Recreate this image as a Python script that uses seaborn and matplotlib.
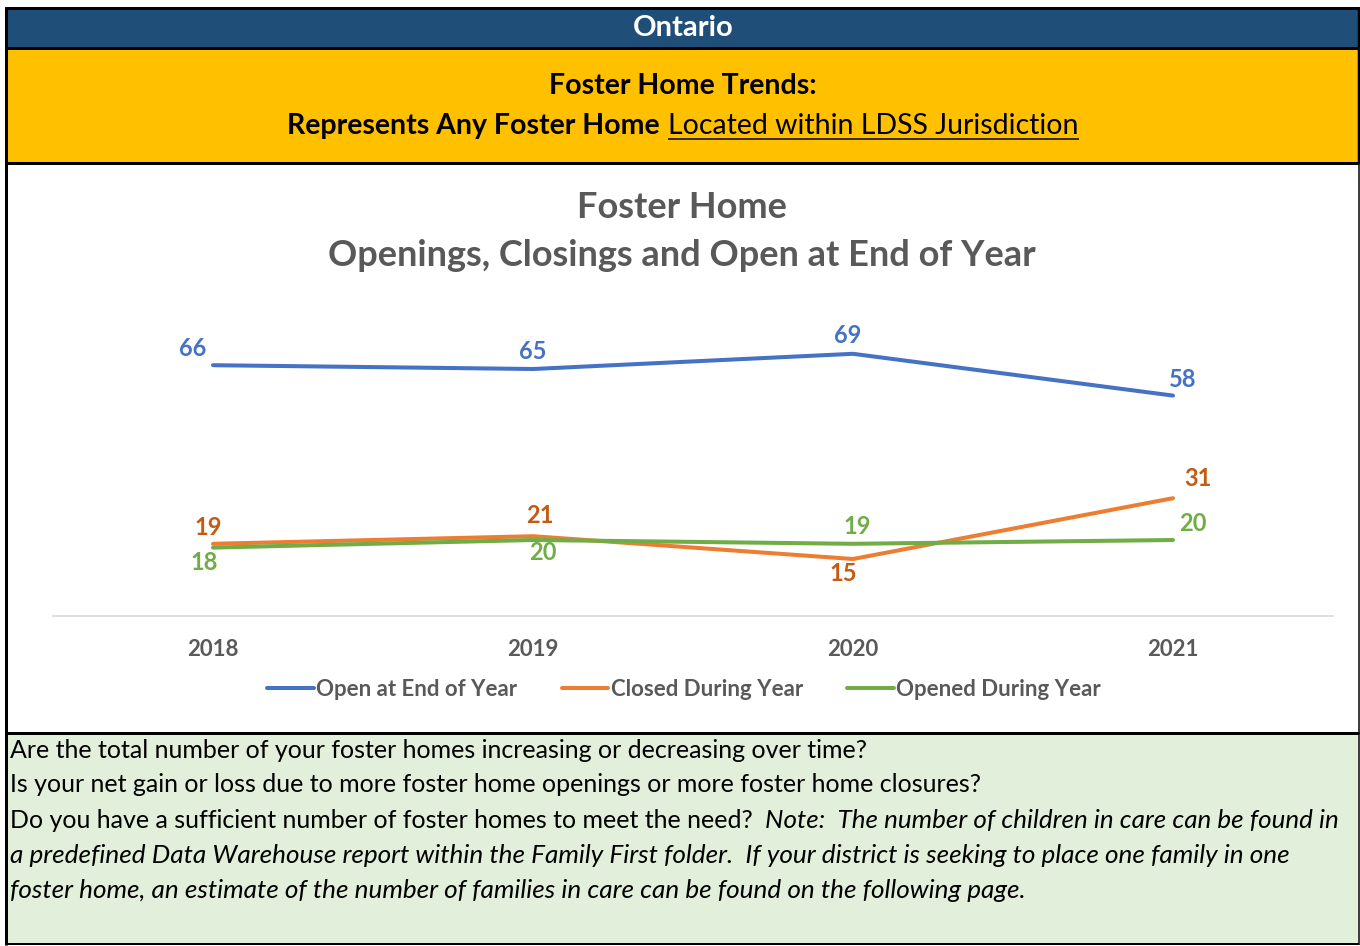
import matplotlib
matplotlib.use("Agg")
import matplotlib.pyplot as plt
import seaborn as sns
import pandas as pd
from matplotlib.patches import Rectangle
from matplotlib.lines import Line2D

# ---------------- data ----------------
years = ["2018", "2019", "2020", "2021"]
open_end_of_year = [66, 65, 69, 58]
closed_during_year = [19, 21, 15, 31]
opened_during_year = [18, 20, 19, 20]
series_names = ["Open at End of Year", "Closed During Year", "Opened During Year"]

header_title = "Ontario"
banner_line1 = "Foster Home Trends:"
banner_bold = "Represents Any Foster Home"
banner_underlined = "Located within LDSS Jurisdiction"
chart_title_lines = ["Foster Home", "Openings, Closings and Open at End of Year"]
notes_regular = [
    "Are the total number of your foster homes increasing or decreasing over time?",
    "Is your net gain or loss due to more foster home openings or more foster home closures?",
    "Do you have a sufficient number of foster homes to meet the need?",
]
notes_italic = [
    "Note:  The number of children in care can be found in",
    "a predefined Data Warehouse report within the Family First folder.  If your district is seeking to place one family in one",
    "foster home, an estimate of the number of families in care can be found on the following page.",
]

# ---------------- style ----------------
line_colors = ["#4472C4", "#ED7D31", "#70AD47"]
label_colors = ["#4472C4", "#C55A11", "#70AD47"]
grey = "#595959"
# data label offsets in pixels (dx, dy up)
label_offsets = [
    [(-20, 17), (0, 18), (-5, 18), (10, 16)],
    [(-5, 16), (7, 21), (-10, -14), (25, 20)],
    [(-9, -15), (10, -12), (4, 17), (20, 17)],
]

W, H = 1360, 946
sns.set_theme(style="white")
plt.rcParams['font.family'] = ['Lato', 'DejaVu Sans']

fig = plt.figure(figsize=(W / 100, H / 100), dpi=100)


def fx(x):
    return x / W


def fy(y):
    return 1 - y / H


def rect(x0, y0, x1, y1, color):
    fig.patches.append(Rectangle((fx(x0), fy(y1)), fx(x1) - fx(x0), fy(y0) - fy(y1),
                                 transform=fig.transFigure, facecolor=color,
                                 edgecolor='none', zorder=-10))


def line(x0, y0, x1, y1, lw_px, color='black'):
    fig.add_artist(Line2D([fx(x0), fx(x1)], [fy(y0), fy(y1)], transform=fig.transFigure,
                          color=color, lw=lw_px * 0.72, solid_capstyle='butt', zorder=5))


# background panels
rect(5, 7, 1358, 48, "#1F4E79")
rect(5, 48, 1358, 163, "#FFC000")
rect(5, 163, 1358, 733, "white")
rect(5, 733, 1358, 944, "#E2EFDA")

# borders
line(5, 8, 1359, 8, 3)
line(5, 48, 1359, 48, 3)
line(5, 163, 1359, 163, 3)
line(5, 733, 1359, 733, 3)
line(5, 944, 1359, 944, 2)
line(5.5, 7, 5.5, 945, 3)
line(1358.5, 7, 1358.5, 163, 2.5)
line(1359, 163, 1359, 945, 1.5)

# header texts
fig.text(fx(683), fy(28), header_title, color="white", fontsize=21, fontweight="bold",
         ha="center", va="center")
fig.text(fx(683), fy(86), banner_line1, color="black", fontsize=20.5, fontweight="bold",
         ha="center", va="center")

# chart title (two lines)
fig.text(fx(682), fy(207), chart_title_lines[0], color=grey, fontsize=26, fontweight="bold",
         ha="center", va="center")
fig.text(fx(682), fy(255), chart_title_lines[1], color=grey, fontsize=26, fontweight="bold",
         ha="center", va="center")

# ---------------- chart ----------------
ax = fig.add_axes([fx(53), fy(616), fx(1333) - fx(53), (616 - 312) / H])
ax.set_facecolor("none")
ax.set_zorder(1)

df = pd.DataFrame({
    "Year": years * 3,
    "Value": open_end_of_year + closed_during_year + opened_during_year,
    "Series": [series_names[0]] * 4 + [series_names[1]] * 4 + [series_names[2]] * 4,
})
sns.lineplot(data=df, x="Year", y="Value", hue="Series", hue_order=series_names,
             palette=line_colors, linewidth=2.9, sort=False, ax=ax, legend=True)
for ln in ax.get_lines():
    ln.set_solid_capstyle("round")

ax.set_xlim(-0.5, len(years) - 0.5)
ax.set_ylim(0, 80)
ax.set_xlabel("")
ax.set_ylabel("")
ax.set_yticks([])
ax.set_xticks(range(len(years)))
ax.set_xticklabels(years, fontsize=16, fontweight="bold", color=grey)
ax.tick_params(axis="x", length=0, pad=16.5)
for s in ["top", "left", "right"]:
    ax.spines[s].set_visible(False)
ax.spines["bottom"].set_color("#D9D9D9")
ax.spines["bottom"].set_linewidth(1.2)

all_series = [open_end_of_year, closed_during_year, opened_during_year]
for si, vals in enumerate(all_series):
    for i, v in enumerate(vals):
        dx, dy = label_offsets[si][i]
        ax.annotate(str(v), (i, v), xytext=(dx, dy), textcoords="offset pixels",
                    ha="center", va="center", fontsize=17, fontweight="bold",
                    color=label_colors[si])

handles, labels = ax.get_legend_handles_labels()
leg = ax.legend(handles, labels, loc="center", bbox_to_anchor=(fx(684), fy(689)),
                bbox_transform=fig.transFigure, ncol=3, frameon=False,
                handlelength=2.1, handletextpad=0.1, columnspacing=2.0,
                prop={"size": 16, "weight": "bold"}, labelcolor=grey)
for h in leg.get_lines():
    h.set_linewidth(2.9)
    h.set_solid_capstyle("round")

# ---------------- segmented texts ----------------
fig.canvas.draw()
r = fig.canvas.get_renderer()

# banner line 2: bold + underlined regular, centred
tb = fig.text(0, fy(134), banner_bold, color="black", fontsize=20.5, fontweight="bold",
              ha="left", va="baseline")
tu = fig.text(0, fy(134), banner_underlined, color="black", fontsize=20.5,
              ha="left", va="baseline")
wb = tb.get_window_extent(r).width
wu = tu.get_window_extent(r).width
gap = 8
total = wb + gap + wu
x0 = 683 - total / 2
tb.set_x(fx(x0))
tu.set_x(fx(x0 + wb + gap))
line(x0 + wb + gap, 139, x0 + wb + gap + wu, 139, 1.5)

# notes
ys = [750, 785, 820, 855, 890]
t3 = None
for i, t in enumerate(notes_regular):
    t3 = fig.text(fx(10), fy(ys[i]), t, color="black", fontsize=18, ha="left", va="center")
w3 = t3.get_window_extent(r).width
fig.text(fx(10 + w3 + 12), fy(ys[2]), notes_italic[0], color="black", fontsize=18.7,
         style="italic", ha="left", va="center")
fig.text(fx(10), fy(ys[3]), notes_italic[1], color="black", fontsize=18.8,
         style="italic", ha="left", va="center")
fig.text(fx(10), fy(ys[4]), notes_italic[2], color="black", fontsize=18.8,
         style="italic", ha="left", va="center")

fig.savefig("out.png", dpi=100)
